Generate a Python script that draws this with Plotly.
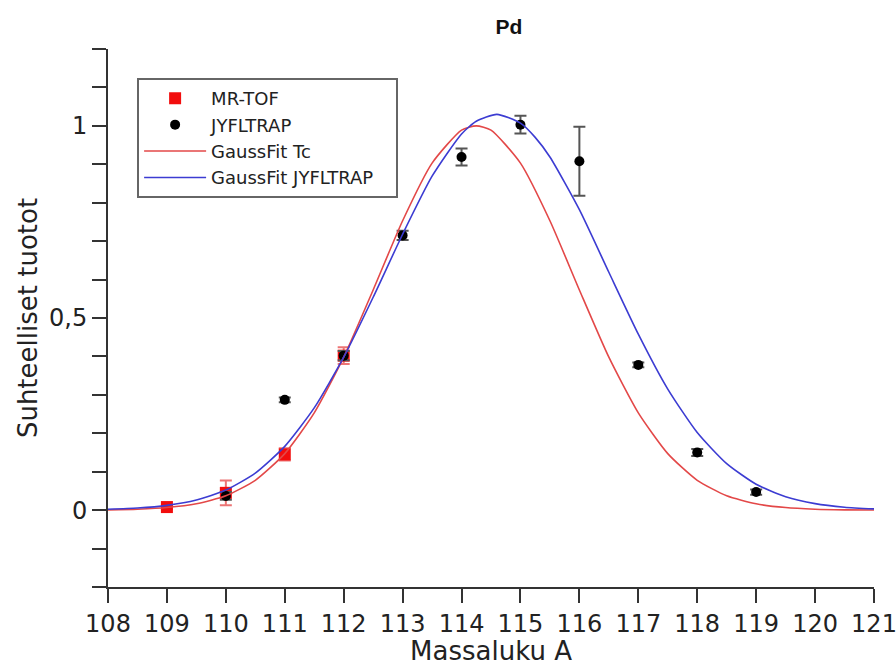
import plotly.graph_objects as go

# ---- data ----
mrtof_x = [109, 110, 111, 112]
mrtof_y = [0.008, 0.045, 0.145, 0.402]
mrtof_err = [0.006, 0.032, 0.016, 0.022]

jyfl_x = [110, 111, 112, 113, 114, 115, 116, 117, 118, 119]
jyfl_y = [0.037, 0.287, 0.402, 0.715, 0.919, 1.003, 0.908, 0.378, 0.150, 0.047]
jyfl_err = [0.010, 0.006, 0.012, 0.012, 0.022, 0.023, 0.090, 0.006, 0.009, 0.007]

fit_tc_x = [108, 108.5, 109, 109.5, 110, 110.5, 111, 111.5, 112, 112.5, 113, 113.5,
            114, 114.25, 114.5, 115, 115.5, 116, 116.5, 117, 117.5, 118, 118.5, 119,
            119.5, 120, 120.5, 121]
fit_tc_y = [0.0008, 0.0025, 0.0067, 0.0165, 0.0375, 0.0776, 0.147, 0.253, 0.398, 0.573,
            0.753, 0.903, 0.989, 1.0, 0.989, 0.903, 0.753, 0.573, 0.398, 0.253, 0.147,
            0.0776, 0.0375, 0.0165, 0.0067, 0.0025, 0.0008, 0.0002]

fit_jy_x = [108, 108.5, 109, 109.5, 110, 110.5, 111, 111.5, 112, 112.5, 113, 113.5,
            114, 114.25, 114.6, 115, 115.25, 115.5, 116, 116.5, 117, 117.5, 118, 118.5,
            119, 119.5, 120, 120.5, 121]
fit_jy_y = [0.0022, 0.0054, 0.0124, 0.0264, 0.0523, 0.0965, 0.166, 0.266, 0.398, 0.554,
            0.718, 0.869, 0.979, 1.012, 1.03, 1.007, 0.970, 0.919, 0.782, 0.619, 0.458,
            0.315, 0.202, 0.121, 0.0674, 0.035, 0.017, 0.0077, 0.0032]

x_ticks = list(range(108, 122))

FONT = "DejaVu Sans"
AXC = "#333333"
NB = "\u00a0"

fig = go.Figure()

fig.add_trace(go.Scatter(
    x=mrtof_x, y=mrtof_y, mode="markers", name="MR-TOF",
    marker=dict(symbol="square", size=12, color="#f20d0d"),
    error_y=dict(type="data", array=mrtof_err, color="rgba(230,70,70,0.75)",
                 thickness=2, width=6),
    legendgroup="a"))

fig.add_trace(go.Scatter(
    x=jyfl_x, y=jyfl_y, mode="markers", name="JYFLTRAP",
    marker=dict(symbol="circle", size=10, color="black"),
    error_y=dict(type="data", array=jyfl_err, color="#555555", thickness=2, width=6),
    legendgroup="b"))

fig.add_trace(go.Scatter(
    x=fit_tc_x, y=fit_tc_y, mode="lines", name="GaussFit Tc",
    line=dict(color="#e34848", width=1.6, shape="spline", smoothing=0.6),
    legendgroup="c"))

fig.add_trace(go.Scatter(
    x=fit_jy_x, y=fit_jy_y, mode="lines", name="GaussFit JYFLTRAP" + NB * 3,
    line=dict(color="#3c3cd2", width=1.6, shape="spline", smoothing=0.6),
    legendgroup="d"))

fig.update_layout(
    width=896, height=666,
    margin=dict(l=108, r=22, t=49, b=79),
    paper_bgcolor="white", plot_bgcolor="white",
    separators=", ",
    font=dict(family=FONT, color="#222222"),
    title=dict(text="<b>Pd</b>", x=0.5235, xref="paper", xanchor="center",
               y=0.96, yanchor="middle", font=dict(family="Liberation Sans", size=21, color="#111111")),
    showlegend=True,
    legend=dict(x=0.038, y=0.946, xanchor="left", yanchor="top",
                bgcolor="white", bordercolor="#666666", borderwidth=2,
                font=dict(family=FONT, size=18, color="#222222"),
                tracegroupgap=0, itemwidth=62),
    xaxis=dict(range=[108, 121], tickvals=x_ticks, ticks="outside", ticklen=14,
               tickwidth=1.5, tickcolor=AXC, showline=True, linecolor=AXC, linewidth=2,
               showgrid=False, zeroline=False, tickfont=dict(size=24, color="#222222"),
               automargin=False, ticklabeloverflow="allow",
               title=dict(text="Massaluku A", font=dict(size=26, color="#222222"), standoff=0)),
    yaxis=dict(range=[-0.2, 1.2], tickvals=[0, 0.5, 1], ticks="outside", ticklen=14,
               tickwidth=1.5, tickcolor=AXC, showline=True, linecolor=AXC, linewidth=2,
               showgrid=False, zeroline=False, tickfont=dict(size=24, color="#222222"),
               automargin=False,
               minor=dict(dtick=0.1, tick0=0, ticks="outside", ticklen=14, tickwidth=1.5,
                          tickcolor=AXC, showgrid=False),
               title=dict(text="Suhteelliset tuotot", font=dict(size=26, color="#222222"), standoff=4)),
)

fig.write_html("out.html", config={"displayModeBar": False},
               post_script="document.body.style.margin='0';document.body.style.overflow='hidden';")
